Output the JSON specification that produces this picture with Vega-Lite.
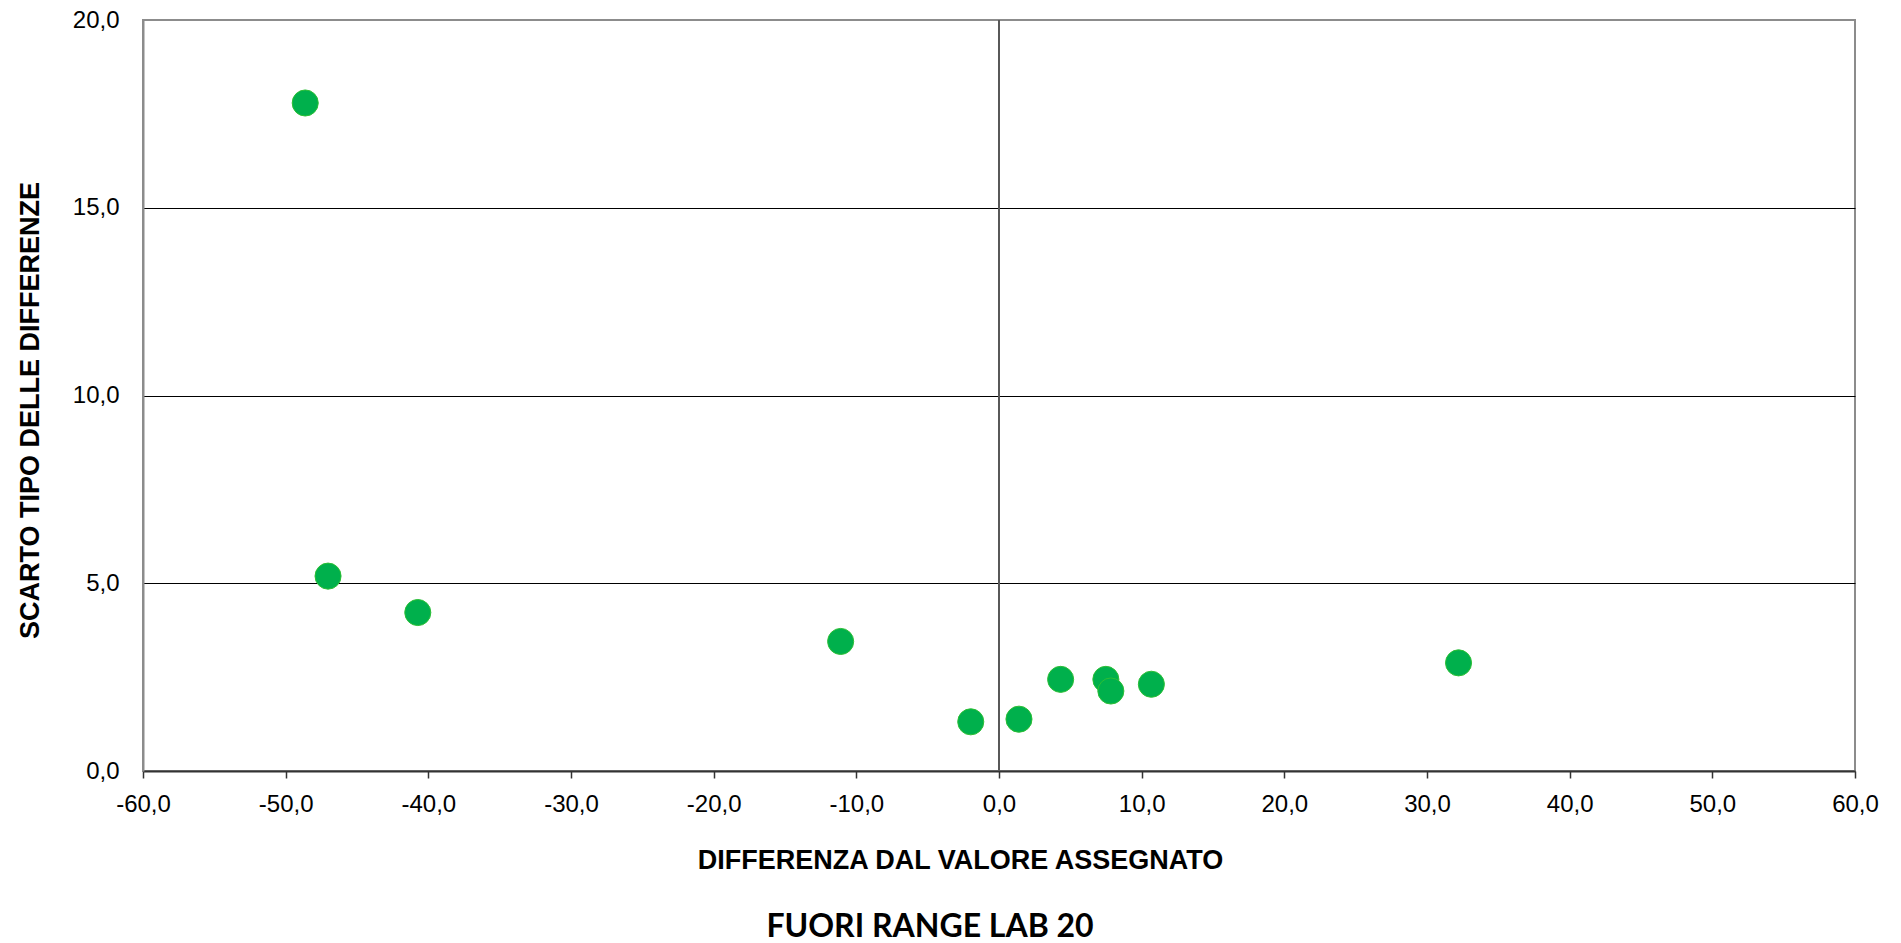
{
  "$schema": "https://vega.github.io/schema/vega-lite/v6.json",
  "width": 1712,
  "height": 751,
  "autosize": {"type": "none"},
  "padding": {"left": 143, "top": 20, "right": 46, "bottom": 172},
  "background": "white",
  "config": {
    "view": {"stroke": "#8c8c8c", "strokeWidth": 2},
    "font": "Liberation Sans"
  },
  "title": {
    "text": "FUORI RANGE LAB 20",
    "orient": "bottom",
    "anchor": "middle",
    "font": "Lato",
    "fontSize": 32,
    "fontWeight": "bold",
    "color": "#000000",
    "dx": -69,
    "offset": 39
  },
  "data": {
    "values": [
      {"diff": -48.63, "sd": 17.79},
      {"diff": -47.03, "sd": 5.19},
      {"diff": -40.74, "sd": 4.22},
      {"diff": -11.1, "sd": 3.45},
      {"diff": -1.98, "sd": 1.31},
      {"diff": 1.40, "sd": 1.38},
      {"diff": 4.32, "sd": 2.44},
      {"diff": 7.49, "sd": 2.44},
      {"diff": 7.84, "sd": 2.13},
      {"diff": 10.68, "sd": 2.31},
      {"diff": 32.21, "sd": 2.88}
    ]
  },
  "layer": [
    {
      "mark": {"type": "rule", "color": "#595959", "strokeWidth": 1.2},
      "encoding": {
        "x": {"datum": 0, "type": "quantitative", "scale": {"domain": [-60, 60]}}
      }
    },
    {
      "mark": {"type": "point", "shape": "circle", "filled": true, "size": 680, "fill": "#00b04c", "stroke": "#2cbf35", "strokeWidth": 1, "opacity": 1},
      "encoding": {
        "x": {
          "field": "diff",
          "type": "quantitative",
          "scale": {"domain": [-60, 60], "nice": false, "zero": false},
          "axis": {
            "title": "DIFFERENZA DAL VALORE ASSEGNATO",
            "values": [-60, -50, -40, -30, -20, -10, 0, 10, 20, 30, 40, 50, 60],
            "labelExpr": "replace(replace(format(datum.value, '.1f'), '.', ','), '−', '-')",
            "labelFont": "Liberation Sans",
            "labelFontSize": 24,
            "labelColor": "#000000",
            "labelPadding": 14,
            "labelFlush": false,
            "labelOverlap": false,
            "tickSize": 7,
            "tickColor": "#333333",
            "tickWidth": 1.5,
            "domainColor": "#333333",
            "domainWidth": 2,
            "grid": false,
            "titleFont": "Liberation Sans",
            "titleFontSize": 27,
            "titleFontWeight": "bold",
            "titleColor": "#000000",
            "titleX": 817,
            "titleY": 97,
            "titleAlign": "center",
            "titleBaseline": "alphabetic"
          }
        },
        "y": {
          "field": "sd",
          "type": "quantitative",
          "scale": {"domain": [0, 20], "nice": false, "zero": false},
          "axis": {
            "title": "SCARTO TIPO DELLE DIFFERENZE",
            "values": [0, 5, 10, 15, 20],
            "labelExpr": "replace(replace(format(datum.value, '.1f'), '.', ','), '−', '-')",
            "labelFont": "Liberation Sans",
            "labelFontSize": 24,
            "labelColor": "#000000",
            "labelPadding": 24,
            "labelFlush": false,
            "labelOverlap": false,
            "ticks": false,
            "domainColor": "#8c8c8c",
            "domainWidth": 2,
            "grid": true,
            "gridColor": {"condition": {"test": "datum.value == 0 || datum.value == 20", "value": "transparent"}, "value": "#000000"},
            "gridWidth": 1,
            "titleFont": "Liberation Sans",
            "titleFontSize": 27,
            "titleFontWeight": "bold",
            "titleColor": "#000000",
            "titleAngle": -90,
            "titleX": -105,
            "titleY": 390,
            "titleAlign": "center",
            "titleBaseline": "alphabetic"
          }
        }
      }
    }
  ]
}
